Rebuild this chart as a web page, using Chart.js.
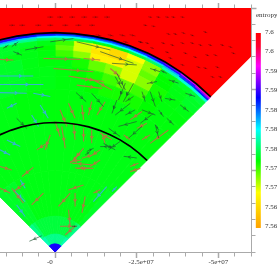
<!DOCTYPE html>
<html>
<head>
<meta charset="utf-8">
<title>entropy</title>
<style>
  html, body { margin: 0; padding: 0; background: #fff; overflow: hidden; }
  canvas { display: block; }
</style>
<script src="https://cdn.jsdelivr.net/npm/chart.js@4/dist/chart.umd.js"></script>
</head>
<body>
<canvas id="chart" width="277" height="265"></canvas>
<script>
// axis ticks (mesh units)
const xTicks = [15e6, 10e6, 5e6, 0, -5e6, -10e6, -15e6, -20e6, -25e6, -30e6, -35e6, -40e6, -45e6, -50e6, -55e6, -60e6];
const yTicks = [0, 5e6, 10e6, 15e6, 20e6, 25e6, 30e6, 35e6, 40e6, 45e6, 50e6, 55e6, 60e6, 65e6, 70e6, 75e6];
const xMajor = { '0': '-0      ', '-25000000': '     -2.5e+07', '-50000000': '-5e+07' };
const yMajor = [25e6, 50e6, 75e6];

// colour bar
const barTicks = [7.6, 7.596, 7.592, 7.588, 7.584, 7.58, 7.576, 7.572, 7.568, 7.564, 7.56];
const barLabels = ['7.6', '7.6', '7.59', '7.59', '7.58', '7.58', '7.58', '7.57', '7.57', '7.56', '7.56'];
const barEnds = [7.5998, 7.5597];
const paletteValues = [7.56, 7.567, 7.5735, 7.58, 7.5865, 7.593, 7.597, 7.6];
const paletteColors = [[255, 165, 0], [255, 255, 0], [0, 255, 0], [0, 255, 255], [0, 0, 255], [255, 0, 255], [255, 0, 50], [255, 0, 0]];

// polar mesh of the entropy field
const thetaEdges = [-45, -40, -35, -30, -25, -20, -15, -10, -5, 0, 5, 10, 15, 20, 25, 30, 35, 40, 45];
const radiusEdges = [0, 0.25, 0.55, 1.1, 2.5, 4, 5, 5.4, 5.7, 6, 6.2, 6.35, 6.5, 6.58, 6.63, 6.67, 6.74];
// entropy minus 7.5, in thousandths, inner ring first
const entropyRings = [
  [87, 87, 87, 87, 87, 87, 87, 87, 87, 87, 87, 87, 87, 87, 87, 87, 87, 87],
  [78, 78, 77, 77, 77, 77, 77, 77, 77, 77, 77, 77, 77, 77, 77, 77, 78, 78],
  [77, 76, 75, 75, 75, 75, 75, 75, 75, 75, 75, 75, 75, 75, 75, 75, 76, 77],
  [74.5, 74.5, 74.5, 74, 74, 74, 74, 74, 74, 74, 74, 74, 74, 74, 74, 74, 74, 74.5],
  [74, 74, 74, 74, 74, 74, 74, 74, 74, 74, 74, 74, 74, 74, 74, 74, 74, 74],
  [74.5, 74.5, 74.5, 74.5, 74, 74, 73.8, 73.8, 73.8, 73.8, 73.8, 73.8, 73.8, 73.8, 73.8, 73.8, 73.8, 73.8],
  [74.5, 74.5, 74.5, 74.5, 74.5, 74.5, 74.5, 74, 74, 73.8, 73.8, 73.5, 73, 73, 73, 73.5, 73.8, 73.8],
  [74.5, 74.5, 74.5, 74.5, 74.5, 74.5, 74.5, 74, 74, 73.8, 73.5, 73, 72, 71, 72, 73.5, 73.8, 73.8],
  [74.5, 74.5, 74.5, 74.5, 74.5, 74.5, 74.5, 74, 73.8, 73.8, 73, 71, 70, 68, 70, 73, 73.8, 74],
  [74.5, 74.5, 74.5, 74.5, 74.5, 74.5, 74, 74, 73.8, 72, 70, 66, 66, 68, 71, 73.5, 74, 74.5],
  [75, 75, 74.5, 74.5, 74.5, 74.5, 74.5, 74, 73.5, 71, 68, 65, 64, 68, 70, 73.5, 74, 74.5],
  [76, 76, 75, 75, 74.5, 74.5, 74.5, 74.5, 74, 72, 68, 66, 64, 67, 70, 74, 74.5, 75],
  [79, 79, 79, 79, 78, 78, 78, 77, 76, 76, 75, 74, 74, 75, 76, 78, 79, 79],
  [83, 83, 83, 83, 83, 83, 82, 81, 80, 80, 80, 80, 80, 80, 81, 82, 85, 86],
  [88, 88, 88, 88, 88, 88, 87, 86, 85, 84, 84, 84, 84, 85, 86, 87, 88, 90],
  [90, 90, 90, 90, 90, 90, 88, 87, 87, 86, 86, 86, 86, 87, 88, 89, 92, 94]
];
const shockRadius = 6.74;
const innerRadius = 3.98;

// velocity glyphs: x0, y0, x1, y1 in units of 1e6
const darkArrows = [
  [-6.4, 49, -9.5, 46.2], [-11.2, 48.8, -14.8, 44.7], [-18.4, 53.9, -20.4, 50.3], [-24, 51.8, -20.9, 46.2],
  [-24, 47.8, -21.5, 46.2], [-26.6, 49.3, -27.6, 46.2], [-29.1, 49.3, -30.7, 44.7], [-31.7, 49.3, -32.7, 46.2],
  [-18.9, 46.7, -17.4, 42.6], [-23, 45.7, -18.4, 42.1], [-24.5, 43.7, -21.5, 42.1], [-26.6, 43.7, -30.7, 42.1],
  [-30.1, 42.6, -26.1, 39.6], [-25, 40.1, -19.4, 38.6], [-30.7, 39.1, -31.7, 35], [-26.6, 38.6, -22.5, 35],
  [-16.4, 38, -19.9, 35.5], [-19.9, 34, -16.4, 31.4], [-14.8, 33.4, -18.4, 31.4], [-25, 28.9, -21, 29.4],
  [-32.2, 55.4, -29.1, 56.4], [-31.2, 52.4, -28.1, 51.8], [-34.2, 54.9, -32.2, 55.9], [-9.7, 30.9, -11.8, 31.9],
  [-37.8, 51.9, -34.8, 52.9], [-33.7, 47.2, -36.8, 46.7], [-38.3, 45.2, -40.9, 43.2], [-31.7, 43.7, -33.2, 41.6],
  [-34.2, 41.1, -36.3, 39.1], [-30.7, 39.1, -31.7, 37.5], [-39.9, 48.8, -42.9, 47.8],
  [9.2, 62.1, 3.6, 63.1], [1.5, 64.6, -5.6, 65.6], [-6.6, 64.6, -16.9, 62.1], [-13.8, 61.6, -24, 58],
  [-17.4, 58, -25, 57.5], [-18.9, 54.9, -21.5, 49.8], [-21.5, 51.9, -19.4, 46.7], [11.8, 41.1, 8.7, 38],
  [15.9, 62.6, 14.3, 63.6], [13.3, 63.1, 11.3, 64.6], [12.8, 61.6, 10.2, 60.5],
  [4.1, 5, 7.9, 3.3], [-17.4, 32.4, -13.8, 32.4], [-9.2, 29.8, -10.7, 30.9], [-5.1, 7.9, -6.6, 7.9]
];
const brownArrows = [
  [16.9, 59.2, 12.8, 59], [3.6, 59.5, -7.7, 59.2], [0.5, 56.4, -11.7, 55.4], [-5.1, 53.9, -14.8, 52.4],
  [-8.7, 59.5, -13.8, 59], [-16.9, 56.4, -19.9, 53.9], [-4.1, 54.1, -13.3, 52.4], [-6.6, 51.3, -14.3, 50.3],
  [-10.7, 53.4, -17.4, 49.8], [-4.1, 45.7, -6.1, 41.1], [-8.2, 45.2, -8.7, 40.6], [-11.2, 46.2, -10.2, 42.1],
  [-15.3, 46.2, -12.8, 42.1], [-1.5, 43.7, -3.6, 38.6], [-5.6, 39.6, -6.1, 34.5], [-8.7, 38, -8.7, 34],
  [-11.2, 37.5, -11.2, 33.4], [0, 40.1, -1.5, 35.5], [-2, 38.6, -3.1, 31.9], [-14.3, 36.5, -15.3, 33.4],
  [1.5, 36, 3.1, 31.4], [-17.4, 34.5, -13.8, 36.5], [-8.2, 28.3, -4.6, 27.8], [-10.7, 25.8, -6.1, 25.8],
  [-23, 34.5, -21, 36], [-29.1, 36, -26.6, 34.5], [-34.7, 37.5, -29.1, 33.4], [-25.5, 27.3, -23, 26.3],
  [-8.7, 31.9, -5.6, 28.3], [-13.8, 31.4, -10.7, 29.4], [-26.6, 43.2, -23, 40.6], [-28.1, 39.6, -25, 38],
  [6.7, 26, 10.2, 23.2], [16.9, 26.3, 13.3, 25.2], [16.9, 19.6, 13.8, 18.1], [9.2, 21.1, 12.8, 18.6],
  [13.3, 19.6, 9.7, 15], [3.6, 18.1, 7.2, 14.5], [-11.2, 26.8, -5.1, 27.3], [-11.7, 25.7, -6.6, 25.7],
  [-13.8, 28.3, -10.7, 26.3], [-8.7, 20.6, -4.1, 19.1], [-13.8, 19.1, -11.7, 18.1], [-4.6, 18.1, -1, 14],
  [-6.1, 18.1, -6.1, 14], [-9.2, 17.1, -8.2, 12], [-4.1, 13, -4.6, 7.9], [-1.5, 7.9, -6.6, 7.9],
  [-6.1, 7.9, -3.1, 5.3], [2.6, 33.4, 5.6, 31.4], [-7.7, 30.3, -4.6, 27.3], [-12.8, 30.3, -8.2, 28.8],
  [-26.1, 25.7, -23, 24.7]
];
const blueArrows = [
  [16.9, 54.1, 6.7, 54.1], [16.9, 51.5, 3.6, 51.5], [16.9, 49, 8.7, 48.8], [6.7, 48.8, 1.5, 47.8],
  [11.8, 45.7, 14.8, 44.2], [4.6, 45.2, 2.1, 41.1], [7.2, 42.1, 5.1, 38.6], [14.8, 34.4, 10.7, 32.4],
  [10.7, 22.2, 9.2, 19.6], [12.8, 19.1, 9.2, 15.5], [-15.8, 20.1, -11.7, 15.5], [-18.9, 20.1, -17.4, 18.6],
  [11.8, 14.5, 9.2, 10.9], [16.9, 31.4, 13.8, 29.8]
];
const upstreamArrows = [
  [2.4, 72.2, 0.6, 72.2], [-0.6, 72.2, -2.4, 72.2], [-4.3, 72.2, -6.1, 72.2], [-8, 72.2, -9.8, 72.2],
  [-11.4, 72.2, -13.2, 72.2], [-15, 72.2, -16.8, 72.2], [14.1, 69.7, 12.3, 69.7], [11, 69.7, 9.2, 69.7],
  [6.1, 69.7, 4.3, 69.7], [2.4, 69.7, 0.6, 69.7], [-2.2, 69.7, -4, 69.7], [-6.2, 69.7, -8, 69.7],
  [-10.4, 69.7, -12.2, 69.7], [-12.4, 66.8, -14.2, 66.4], [-16.1, 66.8, -17.9, 66.4], [-19.7, 66.8, -21.5, 66.4],
  [-22.8, 66.8, -24.6, 66.4], [-20.8, 64.8, -22.4, 64.3], [-25.4, 64.8, -27, 64.3], [-28.5, 72.3, -29.7, 72.1],
  [-31, 72.3, -32.2, 72.1], [-33.7, 72.3, -34.9, 72.1], [-35.6, 72.3, -36.8, 72.1], [-38.4, 72.3, -39.6, 72.1],
  [-27, 69.8, -28.2, 69.6], [-29.5, 69.5, -30.7, 69.3], [-34.1, 67.2, -35.3, 66.8], [-36.2, 67.2, -37.4, 66.8],
  [-38.7, 67.5, -39.9, 67.1], [-41.4, 66.8, -42.6, 66.4], [-45.4, 67.8, -46.6, 67.4], [-25.5, 64.7, -26.7, 64.3],
  [-27.6, 64.4, -28.8, 64], [-32.5, 64.4, -33.7, 64], [-35.3, 63.8, -36.5, 63.4], [-38.4, 64.4, -39.6, 64],
  [-41.4, 64.4, -42.6, 64], [-43.9, 63.8, -45.1, 63.4], [-46.9, 63.8, -48.1, 63.4], [-50.6, 63.8, -51.8, 63.4],
  [-53.1, 63.2, -54.3, 62.8], [-29.1, 62.9, -30.3, 62.5], [-33.7, 61.6, -34.9, 61.2], [-39.3, 61.3, -40.5, 60.9],
  [-42.3, 60.1, -43.5, 59.7], [-46, 60.7, -47.2, 60.3], [-48.5, 60.7, -49.7, 60.3], [-54, 61.3, -55.2, 60.9],
  [-34.7, 59.8, -35.9, 59.4], [-38.4, 57.7, -39.6, 57.3], [-43.3, 57, -44.5, 56.6], [-45.4, 56.7, -46.6, 56.3],
  [-49.1, 57, -50.3, 56.6], [-47.6, 54, -48.8, 53.6], [-50, 54, -51.2, 53.6]
];

function colorFor(value) {
  let i = 0;
  while (i < paletteValues.length - 2 && value > paletteValues[i + 1]) i++;
  const t = Math.min(1, Math.max(0, (value - paletteValues[i]) / (paletteValues[i + 1] - paletteValues[i])));
  const c = paletteColors[i].map((a, k) => Math.round(a + (paletteColors[i + 1][k] - a) * t));
  return `rgb(${c[0]},${c[1]},${c[2]})`;
}

// vertical gradient that follows the cb scale
function barGradient(context) {
  const scale = context.chart.scales.cb;
  // options get resolved once before the first layout
  if (!context.chart.chartArea || !scale) return '#f00';
  const top = scale.getPixelForValue(paletteValues[paletteValues.length - 1]);
  const bottom = scale.getPixelForValue(paletteValues[0]);
  const gradient = context.chart.ctx.createLinearGradient(0, bottom, 0, top);
  const span = paletteValues[paletteValues.length - 1] - paletteValues[0];
  paletteValues.forEach((value, i) => {
    const c = paletteColors[i];
    gradient.addColorStop((value - paletteValues[0]) / span, `rgb(${c[0]},${c[1]},${c[2]})`);
  });
  return gradient;
}

// theta is measured from the vertical, towards the negative x side of the axis
const polarPoint = (radius, theta) => ({
  x: -radius * 1e7 * Math.sin(theta * Math.PI / 180),
  y: radius * 1e7 * Math.cos(theta * Math.PI / 180)
});

const arcPoints = radius => thetaEdges.map(theta => polarPoint(radius, theta));

// shaft, then a small head a little past the middle of the shaft
function arrowPath(list) {
  const path = [];
  list.forEach(([x0, y0, x1, y1]) => {
    const dx = x1 - x0;
    const dy = y1 - y0;
    const len = Math.hypot(dx, dy);
    const size = Math.min(0.8, len * 0.22);
    const hx = x0 + dx * 0.65;
    const hy = y0 + dy * 0.65;
    const ux = dx / len;
    const uy = dy / len;
    path.push({ x: x0 * 1e6, y: y0 * 1e6 }, { x: x1 * 1e6, y: y1 * 1e6 }, { x: null, y: null });
    path.push({ x: (hx - ux * size - uy * size * 0.6) * 1e6, y: (hy - uy * size + ux * size * 0.6) * 1e6 });
    path.push({ x: hx * 1e6, y: hy * 1e6 });
    path.push({ x: (hx - ux * size + uy * size * 0.6) * 1e6, y: (hy - uy * size - ux * size * 0.6) * 1e6 });
    path.push({ x: null, y: null });
  });
  return path;
}

const datasets = [];

function addLine(data, color, width) {
  datasets.push({ type: 'line', data, borderColor: color, borderWidth: width, pointRadius: 0, fill: false, tension: 0 });
}

// first dataset ends up on top in Chart.js
addLine(arcPoints(shockRadius), '#000', 1.7);
addLine(arcPoints(innerRadius), '#000', 1.7);
addLine(arrowPath(darkArrows), 'rgba(35,85,55,0.85)', 0.8);
addLine(arrowPath(upstreamArrows), 'rgba(70,10,10,0.6)', 0.6);
addLine(arrowPath(brownArrows), 'rgba(190,110,70,0.9)', 1.1);
addLine(arrowPath(blueArrows), 'rgba(60,170,230,0.9)', 1.1);

// x steps back by one unit per point: a sorted line off the x range would be cut away
datasets.push({
  type: 'line',
  data: barEnds.map((v, i) => ({ x: -62.24e6 - i, y: v })),
  yAxisID: 'cb',
  clip: false,
  borderWidth: 5,
  pointRadius: 0,
  borderColor: barGradient
});

entropyRings.forEach((ring, r) => {
  ring.forEach((value, t) => {
    const color = colorFor(7.5 + value / 1000);
    datasets.push({
      type: 'line',
      data: [
        polarPoint(radiusEdges[r], thetaEdges[t]),
        polarPoint(radiusEdges[r], thetaEdges[t + 1]),
        polarPoint(radiusEdges[r + 1], thetaEdges[t + 1]),
        polarPoint(radiusEdges[r + 1], thetaEdges[t]),
        polarPoint(radiusEdges[r], thetaEdges[t])
      ],
      borderColor: color,
      backgroundColor: color,
      borderWidth: 0.8,
      pointRadius: 0,
      fill: 'shape'
    });
  });
});

// upstream gas above the shock
datasets.push({
  type: 'line',
  data: [{ x: 60e6, y: 75e6 }, { x: -60e6, y: 75e6 }, { x: -60e6, y: 60e6 }]
    .concat(arcPoints(shockRadius).reverse()),
  borderColor: '#f00',
  backgroundColor: '#f00',
  borderWidth: 0,
  pointRadius: 0,
  fill: 'shape'
});

const axisGray = '#aaa';

const isMajorX = value => xMajor[value] !== undefined;
const isMajorY = value => yMajor.includes(value);

// ticks share one length, dashes shorten the minor ones
function tickGrid(isMajor, length, dash) {
  return {
    drawOnChartArea: false,
    color: axisGray,
    tickColor: axisGray,
    tickLength: length,
    tickWidth: ctx => isMajor(ctx.tick.value) ? 1.5 : 1,
    tickBorderDash: ctx => isMajor(ctx.tick.value) ? [] : dash
  };
}

// labels of the colour bar sit well inside the plot height, no margin needed for them
function fixSize(scale, width, height) {
  if (width) scale.width = width;
  if (height) scale.height = height;
  scale.paddingTop = 0;
  scale.paddingBottom = 0;
  scale.paddingLeft = 0;
  scale.paddingRight = 0;
}

new Chart(document.getElementById('chart'), {
  type: 'line',
  data: { datasets },
  options: {
    responsive: false,
    animation: false,
    events: [],
    layout: { padding: 0 },
    plugins: { legend: { display: false }, tooltip: { enabled: false } },
    scales: {
      x: {
        type: 'linear',
        position: 'bottom',
        reverse: true,
        min: -60e6,
        max: 16.9e6,
        border: { color: axisGray },
        grid: tickGrid(isMajorX, 6, [3.5, 9]),
        afterBuildTicks: scale => { scale.ticks = xTicks.map(value => ({ value })); },
        afterFit: scale => fixSize(scale, 0, 13),
        ticks: {
          autoSkip: false,
          maxRotation: 0,
          padding: 0,
          color: '#333',
          font: { family: 'Liberation Serif', size: 7 },
          callback: value => xMajor[value] || ''
        }
      },
      xTop: {
        type: 'linear',
        axis: 'x',
        position: 'top',
        reverse: true,
        min: -60e6,
        max: 16.9e6,
        border: { color: axisGray },
        grid: tickGrid(isMajorX, 5, [0, 1.5, 3.5, 9]),
        afterBuildTicks: scale => { scale.ticks = xTicks.map(value => ({ value })); },
        afterFit: scale => fixSize(scale, 0, 8),
        ticks: { autoSkip: false, callback: () => '' }
      },
      y: {
        type: 'linear',
        position: 'right',
        min: 0,
        max: 75e6,
        border: { color: axisGray },
        grid: tickGrid(isMajorY, 5.5, [3.5, 9]),
        afterBuildTicks: scale => { scale.ticks = yTicks.map(value => ({ value })); },
        afterFit: scale => fixSize(scale, 6, 0),
        ticks: { autoSkip: false, callback: () => '' }
      },
      cb: {
        type: 'linear',
        position: 'right',
        min: 7.55476,
        max: 7.60494,
        border: { display: false },
        grid: { display: false, drawTicks: false },
        afterBuildTicks: scale => { scale.ticks = barTicks.map(value => ({ value })); },
        afterFit: scale => fixSize(scale, 20, 0),
        ticks: {
          autoSkip: false,
          padding: 8,
          color: '#333',
          font: { family: 'Liberation Serif', size: 7 },
          callback: (value, index) => barLabels[index]
        }
      }
    }
  },
  plugins: [{
    id: 'barTitle',
    afterDraw(chart) {
      const ctx = chart.ctx;
      ctx.save();
      ctx.fillStyle = '#333';
      ctx.font = '7px "Liberation Serif"';
      ctx.textBaseline = 'middle';
      ctx.fillText('entropy', 256, 15);
      ctx.restore();
    }
  }]
});
</script>
</body>
</html>
